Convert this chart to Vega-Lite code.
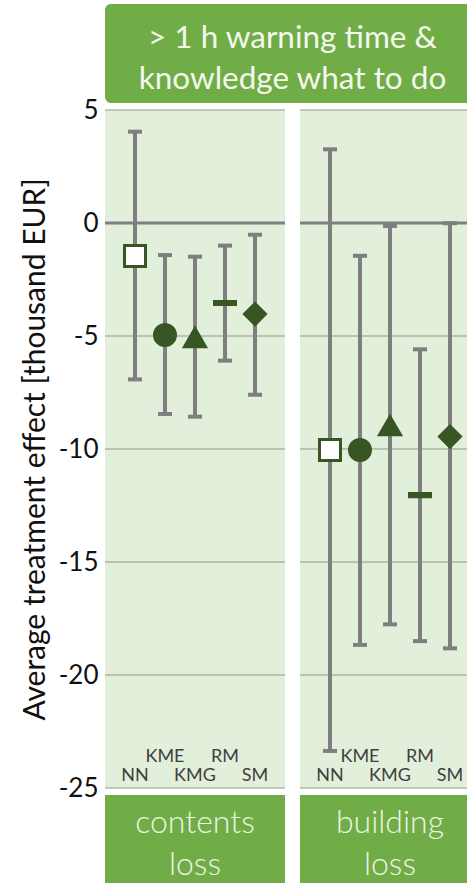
{
  "$schema": "https://vega.github.io/schema/vega-lite/v6.json",
  "background": "white",
  "padding": {"left": 20, "top": 4, "right": 0, "bottom": 0},
  "config": {"font": "Lato", "view": {"stroke": null}},
  "datasets": {
    "ate": [
      {"loss": "contents loss", "method": "NN", "est": -1.46, "lo": -6.92, "hi": 4.04},
      {"loss": "contents loss", "method": "KME", "est": -4.96, "lo": -8.45, "hi": -1.42},
      {"loss": "contents loss", "method": "KMG", "est": -5.07, "lo": -8.57, "hi": -1.49},
      {"loss": "contents loss", "method": "RM", "est": -3.54, "lo": -6.09, "hi": -1.0},
      {"loss": "contents loss", "method": "SM", "est": -4.03, "lo": -7.6, "hi": -0.52},
      {"loss": "building loss", "method": "NN", "est": -10.04, "lo": -23.36, "hi": 3.26},
      {"loss": "building loss", "method": "KME", "est": -10.04, "lo": -18.67, "hi": -1.45},
      {"loss": "building loss", "method": "KMG", "est": -8.97, "lo": -17.76, "hi": -0.13},
      {"loss": "building loss", "method": "RM", "est": -12.04, "lo": -18.5, "hi": -5.59},
      {"loss": "building loss", "method": "SM", "est": -9.45, "lo": -18.82, "hi": -0.01}
    ],
    "grid": [
      {"loss": "contents loss", "v": 5}, {"loss": "contents loss", "v": 0}, {"loss": "contents loss", "v": -5},
      {"loss": "contents loss", "v": -10}, {"loss": "contents loss", "v": -15}, {"loss": "contents loss", "v": -20},
      {"loss": "contents loss", "v": -25},
      {"loss": "building loss", "v": 5}, {"loss": "building loss", "v": 0}, {"loss": "building loss", "v": -5},
      {"loss": "building loss", "v": -10}, {"loss": "building loss", "v": -15}, {"loss": "building loss", "v": -20},
      {"loss": "building loss", "v": -25}
    ]
  },
  "bounds": "flush",
  "spacing": 7,
  "vconcat": [
    {
      "width": 375,
      "height": 99,
      "view": {"fill": "#70AD47", "cornerRadius": 6, "stroke": null},
      "data": {"values": [{"heading": "> 1 h warning time &\nknowledge what to do"}]},
      "mark": {"type": "text", "color": "#f4f8ee", "fontSize": 31.5, "lineBreak": "\n", "lineHeight": 41, "align": "center", "baseline": "middle", "dy": -15},
      "encoding": {"text": {"field": "heading", "type": "nominal"}}
    },
    {
      "width": 375,
      "height": 678,
      "data": {"name": "ate"},
      "encoding": {
        "x": {"field": "loss", "type": "nominal", "scale": {"type": "band", "domain": ["contents loss", "building loss"], "paddingInner": 0.0769, "paddingOuter": 0}, "axis": null}
      },
      "layer": [
        {
          "transform": [{"aggregate": [{"op": "count", "as": "n"}], "groupby": ["loss"]}],
          "mark": {"type": "tick", "color": "#E2EFDA", "opacity": 1, "size": 180, "thickness": 678, "orient": "horizontal"},
          "encoding": {
            "y": {"datum": -10, "type": "quantitative", "title": "Average treatment effect [thousand EUR]",
              "scale": {"domain": [-25, 5], "nice": false, "zero": false},
              "axis": {"values": [5, 0, -5, -10, -15, -20, -25], "labelExpr": "datum.value", "grid": false,
                "domain": false, "ticks": false, "labelPadding": 7, "labelFontSize": 26, "labelColor": "#111111",
                "titleFontSize": 30, "titleFontWeight": "normal", "titleColor": "#111111", "titlePadding": 8}
            }
          }
        },
        {
          "data": {"name": "grid"},
          "transform": [{"filter": "datum.v !== 0"}],
          "mark": {"type": "tick", "color": "#8e9a86", "size": 180, "thickness": 1.2, "orient": "horizontal", "opacity": 1},
          "encoding": {"y": {"field": "v", "type": "quantitative", "title": "Average treatment effect [thousand EUR]"}}
        },
        {
          "data": {"name": "grid"},
          "transform": [{"filter": "datum.v === 0"}],
          "mark": {"type": "tick", "color": "#7f7f7f", "size": 180, "thickness": 3, "orient": "horizontal", "opacity": 1},
          "encoding": {"y": {"field": "v", "type": "quantitative", "title": "Average treatment effect [thousand EUR]"}}
        },
        {
          "mark": {"type": "rule", "color": "#7f7f7f", "strokeWidth": 4},
          "encoding": {
            "xOffset": {"field": "method", "type": "nominal", "scale": {"type": "point", "domain": ["NN", "KME", "KMG", "RM", "SM"], "padding": 1.23, "align": 0.5}},
            "y": {"field": "lo", "type": "quantitative", "title": "Average treatment effect [thousand EUR]"},
            "y2": {"field": "hi"}
          }
        },
        {
          "mark": {"type": "tick", "color": "#7f7f7f", "size": 14, "thickness": 4, "orient": "horizontal", "opacity": 1},
          "encoding": {
            "xOffset": {"field": "method", "type": "nominal"},
            "y": {"field": "lo", "type": "quantitative", "title": "Average treatment effect [thousand EUR]"}
          }
        },
        {
          "mark": {"type": "tick", "color": "#7f7f7f", "size": 14, "thickness": 4, "orient": "horizontal", "opacity": 1},
          "encoding": {
            "xOffset": {"field": "method", "type": "nominal"},
            "y": {"field": "hi", "type": "quantitative", "title": "Average treatment effect [thousand EUR]"}
          }
        },
        {
          "mark": {"type": "point", "filled": true, "stroke": "#375623", "strokeWidth": 3, "size": 441, "opacity": 1},
          "encoding": {
            "xOffset": {"field": "method", "type": "nominal"},
            "y": {"field": "est", "type": "quantitative", "title": "Average treatment effect [thousand EUR]"},
            "fill": {"field": "method", "type": "nominal", "scale": {"domain": ["NN", "KME", "KMG", "RM", "SM"], "range": ["#ffffff", "#375623", "#375623", "#375623", "#375623"]}, "legend": null},
            "shape": {"field": "method", "type": "nominal", "scale": {"domain": ["NN", "KME", "KMG", "RM", "SM"], "range": ["square", "circle", "triangle-up", "M-1,-0.15H1V0.15H-1Z", "diamond"]}, "legend": null}
          }
        },
        {
          "transform": [{"filter": "indexof(['NN','KMG','SM'], datum.method) >= 0"}],
          "mark": {"type": "text", "fontSize": 18, "color": "#404040", "baseline": "middle"},
          "encoding": {
            "xOffset": {"field": "method", "type": "nominal"},
            "y": {"datum": -24.45, "type": "quantitative"},
            "text": {"field": "method", "type": "nominal"}
          }
        },
        {
          "transform": [{"filter": "indexof(['KME','RM'], datum.method) >= 0"}],
          "mark": {"type": "text", "fontSize": 18, "color": "#404040", "baseline": "middle"},
          "encoding": {
            "xOffset": {"field": "method", "type": "nominal"},
            "y": {"datum": -23.65, "type": "quantitative"},
            "text": {"field": "method", "type": "nominal"}
          }
        }
      ]
    },
    {
      "width": 375,
      "height": 90,
      "data": {"name": "ate"},
      "transform": [{"aggregate": [{"op": "count", "as": "n"}], "groupby": ["loss"]}],
      "encoding": {
        "x": {"field": "loss", "type": "nominal", "scale": {"type": "band", "domain": ["contents loss", "building loss"], "paddingInner": 0.0769, "paddingOuter": 0}, "axis": null},
        "y": {"datum": 0, "type": "quantitative", "scale": {"domain": [-1, 1]}, "axis": null}
      },
      "layer": [
        {
          "mark": {"type": "tick", "color": "#70AD47", "opacity": 1, "size": 180, "thickness": 90, "orient": "horizontal"}
        },
        {
          "mark": {"type": "text", "fontSize": 32, "fontWeight": 300, "lineBreak": " ", "lineHeight": 42, "color": "#eef4e2", "align": "center", "baseline": "middle", "dy": -17},
          "encoding": {"text": {"field": "loss", "type": "nominal"}}
        }
      ]
    }
  ]
}
